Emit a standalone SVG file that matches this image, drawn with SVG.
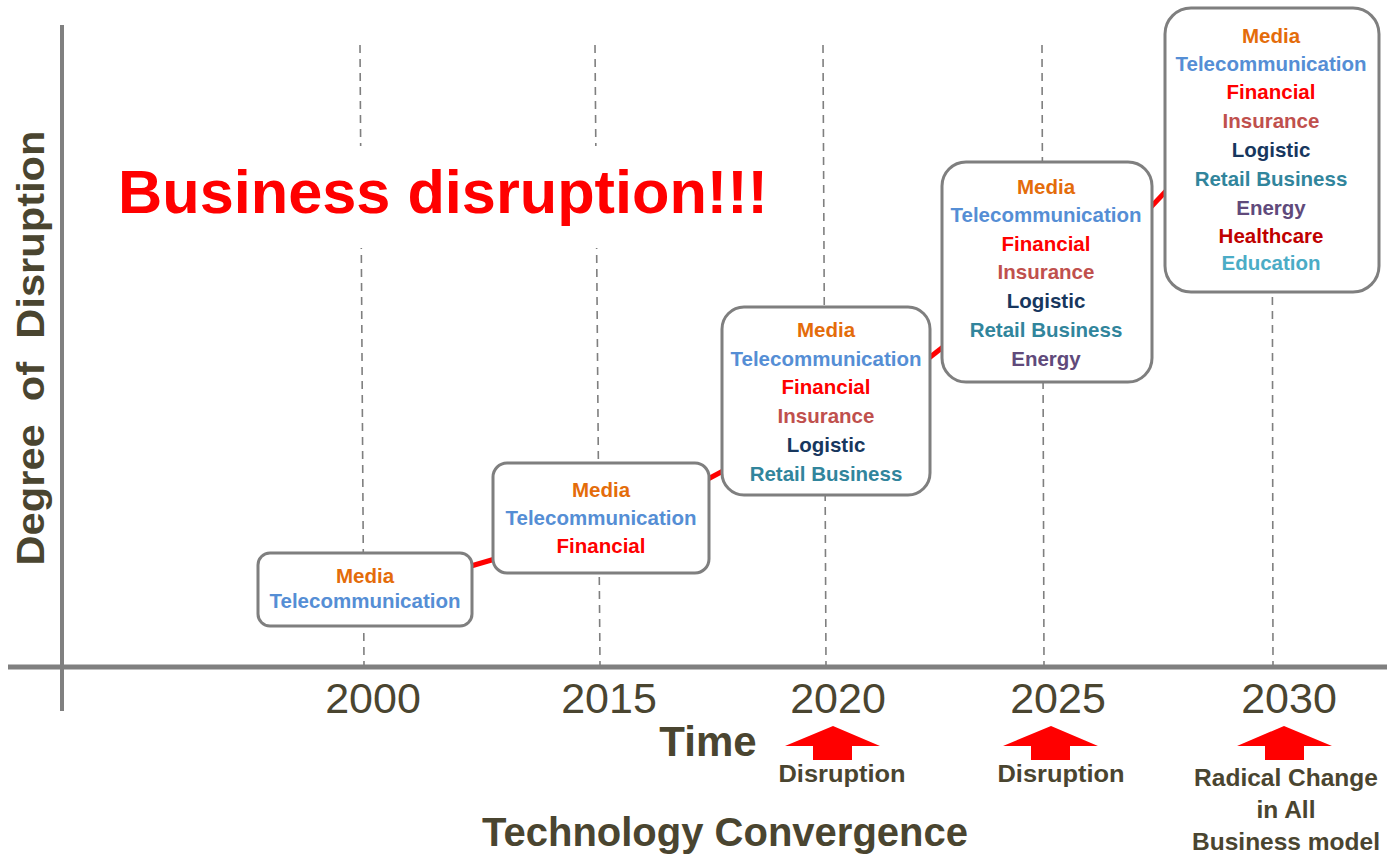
<svg xmlns="http://www.w3.org/2000/svg" width="1387" height="855" viewBox="0 0 1387 855">
<style>
.grid{stroke:#7f7f7f;stroke-width:1.6;stroke-dasharray:8 6;fill:none}
.axis{stroke:#808080;fill:none}
.box{fill:#fff;stroke:#7f7f7f;stroke-width:3}
.conn{stroke:#ff0000;stroke-width:5;fill:none}
.t{font-family:"Liberation Sans",Arial,sans-serif;font-weight:bold;font-size:20.5px;text-anchor:middle}
.dark{fill:#4a4530;font-family:"Liberation Sans",Arial,sans-serif}
.media{fill:#e46c0a}.tel{fill:#558ed5}.fin{fill:#ff0000}.ins{fill:#c0504d}.log{fill:#17375e}.ret{fill:#31859c}.ene{fill:#604a7b}.hea{fill:#c00000}.edu{fill:#4bacc6}
.arrow{fill:#ff0000}
</style>
<rect width="1387" height="855" fill="#fff"/>
<g id="gridlines">
<line class="grid" x1="360" y1="45" x2="364" y2="665"/>
<line class="grid" x1="595" y1="45" x2="600" y2="665"/>
<line class="grid" x1="823" y1="45" x2="826" y2="665"/>
<line class="grid" x1="1042" y1="45" x2="1044" y2="665"/>
<line class="grid" x1="1272" y1="45" x2="1273" y2="665"/>
</g>
<g id="title">
<rect x="108" y="146" width="668" height="102" fill="#fff"/>
<text x="118" y="213" font-family="Liberation Sans,Arial,sans-serif" font-weight="bold" font-size="62" fill="#ff0000" textLength="650" lengthAdjust="spacingAndGlyphs">Business disruption!!!</text>
</g>
<g id="axes">
<line class="axis" x1="62" y1="25" x2="62" y2="711" stroke-width="4"/>
<line class="axis" x1="8" y1="667" x2="1387" y2="667" stroke-width="5"/>
<text class="dark" transform="translate(44,348) rotate(-90)" font-size="38" font-weight="bold" text-anchor="middle" xml:space="preserve" textLength="435" lengthAdjust="spacingAndGlyphs">Degree  of  Disruption</text>
</g>
<g id="connectors">
<line class="conn" x1="471" y1="566" x2="495" y2="559"/>
<line class="conn" x1="708" y1="479" x2="723" y2="471"/>
<line class="conn" x1="929" y1="358" x2="943" y2="347"/>
<line class="conn" x1="1151" y1="207" x2="1166" y2="191"/>
</g>
<g id="box2000">
<rect class="box" x="258" y="553" width="214" height="73" rx="12"/>
<text class="t media" x="365" y="583">Media</text>
<text class="t tel" x="365" y="608">Telecommunication</text>
</g>
<g id="box2015">
<rect class="box" x="493" y="463" width="216" height="110" rx="14"/>
<text class="t media" x="601" y="497">Media</text>
<text class="t tel" x="601" y="525">Telecommunication</text>
<text class="t fin" x="601" y="553">Financial</text>
</g>
<g id="box2020">
<rect class="box" x="722" y="307" width="208" height="188" rx="22"/>
<text class="t media" x="826" y="337">Media</text>
<text class="t tel" x="826" y="366">Telecommunication</text>
<text class="t fin" x="826" y="394">Financial</text>
<text class="t ins" x="826" y="423">Insurance</text>
<text class="t log" x="826" y="452">Logistic</text>
<text class="t ret" x="826" y="481">Retail Business</text>
</g>
<g id="box2025">
<rect class="box" x="942" y="162" width="210" height="220" rx="24"/>
<text class="t media" x="1046" y="194">Media</text>
<text class="t tel" x="1046" y="222">Telecommunication</text>
<text class="t fin" x="1046" y="251">Financial</text>
<text class="t ins" x="1046" y="279">Insurance</text>
<text class="t log" x="1046" y="308">Logistic</text>
<text class="t ret" x="1046" y="337">Retail Business</text>
<text class="t ene" x="1046" y="366">Energy</text>
</g>
<g id="box2030">
<rect class="box" x="1165" y="8" width="214" height="284" rx="26"/>
<text class="t media" x="1271" y="43">Media</text>
<text class="t tel" x="1271" y="71">Telecommunication</text>
<text class="t fin" x="1271" y="99">Financial</text>
<text class="t ins" x="1271" y="128">Insurance</text>
<text class="t log" x="1271" y="157">Logistic</text>
<text class="t ret" x="1271" y="186">Retail Business</text>
<text class="t ene" x="1271" y="215">Energy</text>
<text class="t hea" x="1271" y="243">Healthcare</text>
<text class="t edu" x="1271" y="270">Education</text>
</g>
<g id="years" class="dark" font-size="43" text-anchor="middle">
<text x="373" y="713">2000</text>
<text x="609" y="713">2015</text>
<text x="838" y="713">2020</text>
<text x="1058" y="713">2025</text>
<text x="1289" y="713">2030</text>
</g>
<g id="labels" class="dark" font-weight="bold" text-anchor="middle">
<text x="708" y="756" font-size="42">Time</text>
<text x="725" y="846" font-size="40">Technology Convergence</text>
<text x="842" y="782" font-size="23" textLength="127" lengthAdjust="spacingAndGlyphs">Disruption</text>
<text x="1061" y="782" font-size="23" textLength="127" lengthAdjust="spacingAndGlyphs">Disruption</text>
<text x="1286" y="786" font-size="24.5">Radical Change</text>
<text x="1286" y="818" font-size="24.5">in All</text>
<text x="1286" y="850" font-size="24.5">Business model</text>
</g>
<g id="arrows">
<polygon class="arrow" points="833,726 880,746 852,746 852,760 813,760 813,746 785,746"/>
<polygon class="arrow" points="1051,726 1098,746 1070,746 1070,760 1031,760 1031,746 1003,746"/>
<polygon class="arrow" points="1284,726 1332,746 1304,746 1304,760 1265,760 1265,746 1237,746"/>
</g>
</svg>
